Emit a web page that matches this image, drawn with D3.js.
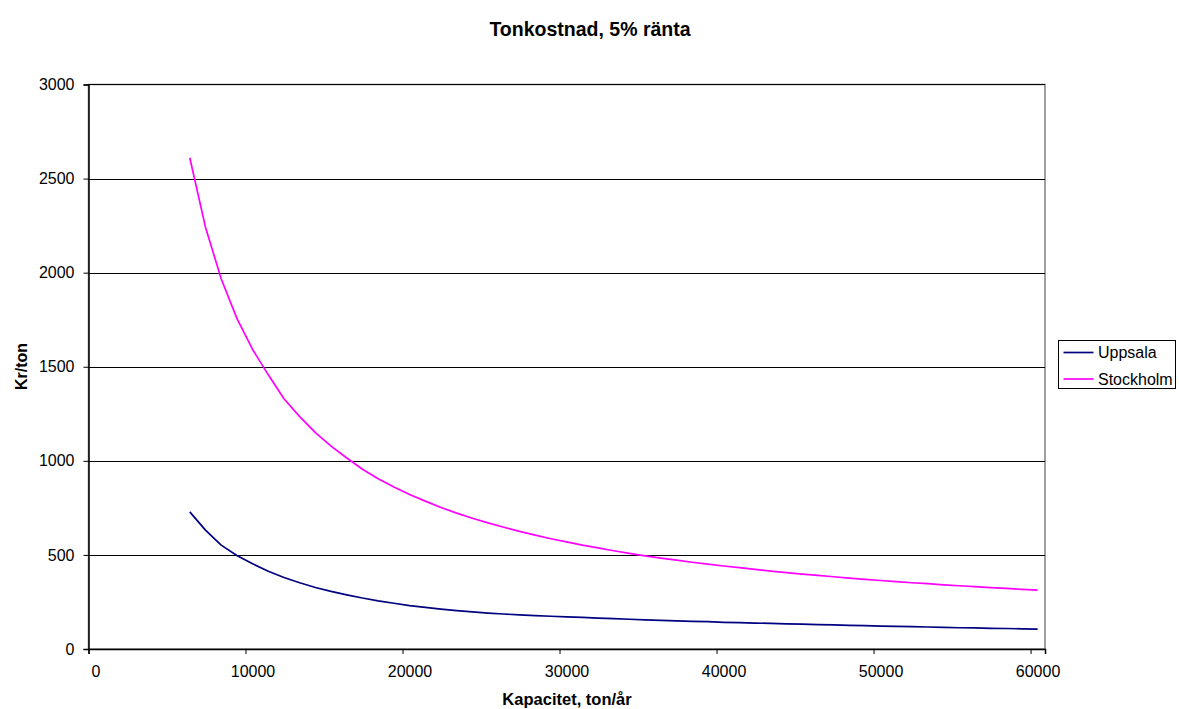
<!DOCTYPE html>
<html>
<head>
<meta charset="utf-8">
<script src="https://cdn.jsdelivr.net/npm/d3@7"></script>
<style>
  html, body { margin: 0; padding: 0; background: #fff; }
  svg { display: block; font-family: "Liberation Sans", Arial, sans-serif; }
</style>
</head>
<body>
<svg id="chart" width="1179" height="709"></svg>
<script>
// Capacity (ton/år) for each calculated point
const capacity = [
  6450, 7450, 8450, 9450, 10450, 11450, 12450, 13450, 14450, 15450,
  16450, 17450, 18450, 19450, 20450, 21450, 22450, 23450, 24450, 25450,
  26450, 27450, 28450, 29450, 30450, 31450, 32450, 33450, 34450, 35450,
  36450, 37450, 38450, 39450, 40450, 41450, 42450, 43450, 44450, 45450,
  46450, 47450, 48450, 49450, 50450, 51450, 52450, 53450, 54450, 55450,
  56450, 57450, 58450, 59450, 60450
];

// Cost per ton (Kr/ton), Uppsala
const uppsala = [
  729, 632, 552, 497, 453, 413, 380, 352, 327, 306,
  288, 271, 256, 243, 231, 221, 212, 204, 197, 191,
  186, 181, 177, 174, 171, 168, 164, 161, 158, 155,
  152, 149, 147, 145, 142, 140, 138, 136, 134, 132,
  130, 128, 126, 124, 122, 120, 119, 117, 115, 113,
  112, 110, 109, 107, 106
];

// Cost per ton (Kr/ton), Stockholm
const stockholm = [
  2611, 2242, 1968, 1757, 1592, 1457, 1330, 1235, 1150, 1078,
  1015, 955, 905, 861, 821, 786, 752, 722, 695, 670,
  647, 625, 605, 586, 569, 552, 537, 522, 508, 495,
  483, 472, 461, 451, 441, 432, 423, 414, 406, 398,
  391, 384, 377, 370, 364, 358, 352, 347, 341, 336,
  331, 326, 322, 317, 313
];

const seriesNames = ["Uppsala", "Stockholm"];
const seriesColors = ["#000080", "#FF00FF"];
const xTicks = [0, 10000, 20000, 30000, 40000, 50000, 60000];
const yTicks = [0, 500, 1000, 1500, 2000, 2500, 3000];

const plot = { left: 88.5, right: 1045, top: 84.5, bottom: 649 };
const FONT = "Liberation Sans, Arial, sans-serif";

const svg = d3.select("#chart");

const x = d3.scaleLinear().domain([0, 60920]).range([plot.left, plot.right]);
const y = d3.scaleLinear().domain([0, 3000]).range([plot.bottom, plot.top]);

// Plot area frame
svg.append("rect")
  .attr("x", plot.left).attr("y", plot.top)
  .attr("width", plot.right - plot.left).attr("height", plot.bottom - plot.top)
  .attr("fill", "#fff").attr("stroke", "#808080").attr("stroke-width", 1.5);

// Horizontal gridlines
svg.append("g")
  .selectAll("line")
  .data(yTicks.filter(d => d > 0 && d < 3000))
  .join("line")
  .attr("x1", plot.left).attr("x2", plot.right)
  .attr("y1", d => Math.round(y(d)) + 0.5).attr("y2", d => Math.round(y(d)) + 0.5)
  .attr("stroke", "#000").attr("stroke-width", 1);

// Top gridline at axis max
svg.append("line")
  .attr("x1", plot.left).attr("x2", plot.right)
  .attr("y1", y(3000)).attr("y2", y(3000))
  .attr("stroke", "#000").attr("stroke-width", 1);

// Y axis
const yAxis = d3.axisLeft(y).tickValues(yTicks).tickSize(5).tickPadding(9)
  .tickFormat(d3.format("d"));
const gy = svg.append("g").attr("transform", `translate(${plot.left},0)`).call(yAxis);
gy.select(".domain").attr("stroke", "#000").attr("stroke-width", 1.5);
gy.selectAll(".tick line").attr("stroke", "#000");
gy.selectAll(".tick text").attr("font-size", 16).attr("fill", "#000")
  .attr("font-family", FONT);

// X axis
const xAxis = d3.axisBottom(x).tickValues(xTicks).tickSize(5).tickPadding(12)
  .tickFormat(d3.format("d"));
const gx = svg.append("g").attr("transform", `translate(0,${plot.bottom})`).call(xAxis);
gx.select(".domain").attr("stroke", "#000").attr("stroke-width", 1.5);
gx.selectAll(".tick line").attr("stroke", "#000");
gx.selectAll(".tick text").attr("font-size", 16).attr("fill", "#000")
  .attr("dx", 7)
  .attr("font-family", FONT);

// Series lines
const line = d3.line().x(d => x(d[0])).y(d => y(d[1]));
const series = [uppsala, stockholm];
series.forEach((vals, i) => {
  svg.append("path")
    .datum(capacity.map((c, j) => [c, vals[j]]))
    .attr("fill", "none")
    .attr("stroke", seriesColors[i])
    .attr("stroke-width", 1.7)
    .attr("stroke-linejoin", "round")
    .attr("d", line);
});

// Title
svg.append("text")
  .attr("x", 590).attr("y", 36)
  .attr("text-anchor", "middle")
  .attr("font-family", FONT)
  .attr("font-size", 19.5).attr("font-weight", "bold")
  .text("Tonkostnad, 5% ränta");

// Axis titles
svg.append("text")
  .attr("x", 567).attr("y", 705)
  .attr("text-anchor", "middle")
  .attr("font-family", FONT)
  .attr("font-size", 16.5).attr("font-weight", "bold")
  .text("Kapacitet, ton/år");

svg.append("text")
  .attr("transform", `translate(27,366.5) rotate(-90)`)
  .attr("text-anchor", "middle")
  .attr("font-family", FONT)
  .attr("font-size", 16).attr("font-weight", "bold")
  .text("Kr/ton");

// Legend
const legend = svg.append("g").attr("transform", "translate(1058.5,340.5)");
legend.append("rect")
  .attr("width", 117).attr("height", 48)
  .attr("fill", "#fff").attr("stroke", "#000").attr("stroke-width", 1);
seriesNames.forEach((name, i) => {
  const ly = 12 + i * 26.5;
  legend.append("line")
    .attr("x1", 5).attr("x2", 35).attr("y1", ly).attr("y2", ly)
    .attr("stroke", seriesColors[i]).attr("stroke-width", 1.7);
  legend.append("text")
    .attr("x", 39.5).attr("y", ly + 5.5)
    .attr("font-family", FONT)
    .attr("font-size", 16)
    .text(name);
});
</script>
</body>
</html>
